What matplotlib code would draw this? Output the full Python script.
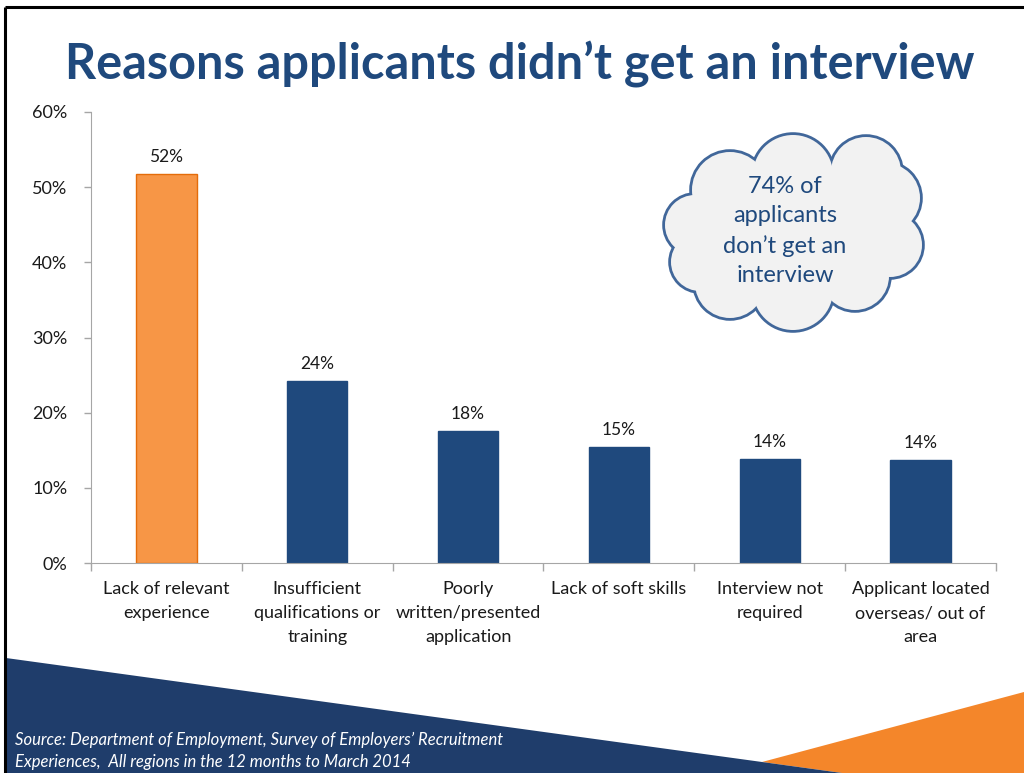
import matplotlib.pyplot as plt
from matplotlib.patches import Polygon, Circle, Ellipse
import numpy as np

plt.rcParams['font.family'] = ['Lato', 'DejaVu Sans']

categories = ["Lack of relevant\nexperience",
              "Insufficient\nqualifications or\ntraining",
              "Poorly\nwritten/presented\napplication",
              "Lack of soft skills",
              "Interview not\nrequired",
              "Applicant located\noverseas/ out of\narea"]
values = [51.7, 24.2, 17.6, 15.4, 13.8, 13.7]
bar_colors = ["#F79646", "#1F497D", "#1F497D", "#1F497D", "#1F497D", "#1F497D"]
edge_colors = ["#E46C0A", "#1F497D", "#1F497D", "#1F497D", "#1F497D", "#1F497D"]
yticks = [0, 10, 20, 30, 40, 50, 60]

title = "Reasons applicants didn\u2019t get an interview"
cloud_text = "74% of\napplicants\ndon\u2019t get an\ninterview"
source = ("Source: Department of Employment, Survey of Employers\u2019 Recruitment\n"
          "Experiences,  All regions in the 12 months to March 2014")

W, H = 1024, 773
fig = plt.figure(figsize=(W / 100, H / 100), dpi=100)

# background layer in pixel coordinates (y down)
bg = fig.add_axes([0, 0, 1, 1])
bg.set_xlim(0, W)
bg.set_ylim(H, 0)
bg.axis("off")

# slide frame
bg.plot([5, W], [7, 7], color="black", lw=2.2, solid_capstyle="butt")
bg.plot([5, 5], [7, H], color="black", lw=2.2, solid_capstyle="butt")

# footer shapes
bg.add_patch(Polygon([(762, 762), (W, 692), (W, H), (842, H)], closed=True,
                     facecolor="#F4862A", edgecolor="none"))
bg.add_patch(Polygon([(6, 658), (842, H), (6, H)], closed=True,
                     facecolor="#1F3D6B", edgecolor="none"))
bg.text(15, 751, source, color="white", fontsize=12, style="italic",
        va="center", ha="left", linespacing=1.4)

bg.text(520, 64, title, color="#1F497D", fontsize=35, fontweight="bold",
        ha="center", va="center")

# callout cloud
puffs = [(793, 175, 40), (866, 172, 35), (730, 190, 38), (885, 198, 35),
         (890, 245, 32), (855, 276, 34), (793, 290, 40), (730, 283, 35),
         (700, 262, 29), (695, 225, 30)]
cloud_face, cloud_edge = "#F2F2F2", "#41679A"
for cx, cy, r in puffs:
    bg.add_patch(Circle((cx, cy), r, facecolor=cloud_face, edgecolor=cloud_edge,
                        lw=4, zorder=3))
for cx, cy, r in puffs:
    bg.add_patch(Circle((cx, cy), r, facecolor=cloud_face, edgecolor="none",
                        zorder=4))
bg.add_patch(Ellipse((793, 232), 190, 140, facecolor=cloud_face,
                     edgecolor="none", zorder=4))
bg.text(785, 231, cloud_text, color="#1F497D", fontsize=17, ha="center",
        va="center", linespacing=1.5, zorder=5)

# bar chart
ax = fig.add_axes([91 / W, 1 - 563 / H, (996 - 91) / W, (563 - 112) / H])
ax.patch.set_alpha(0)
x = np.arange(len(values))
ax.bar(x, values, width=0.4, color=bar_colors, edgecolor=edge_colors, lw=1)
for xi, v in zip(x, values):
    ax.text(xi, v + 1.2, f"{round(v)}%", ha="center", va="bottom",
            fontsize=12.5, color="#1a1a1a")

ax.set_xlim(-0.5, len(values) - 0.5)
ax.set_ylim(0, 60)
ax.set_yticks(yticks)
ax.set_yticklabels([f"{t}%" for t in yticks], fontsize=13, color="#1a1a1a")
ax.set_xticks(x)
ax.set_xticklabels(categories, fontsize=13, color="#1a1a1a", linespacing=1.62,
                   va="top")
ax.set_xticks(np.arange(len(values) + 1) - 0.5, minor=True)
ax.tick_params(axis="x", which="major", length=0, pad=13)
ax.tick_params(axis="x", which="minor", length=6, color="#A6A6A6", width=1)
ax.tick_params(axis="y", length=5, color="#A6A6A6", width=1, pad=12)
for side in ("top", "right"):
    ax.spines[side].set_visible(False)
for side in ("left", "bottom"):
    ax.spines[side].set_color("#A6A6A6")

fig.savefig("out.png", dpi=100)
